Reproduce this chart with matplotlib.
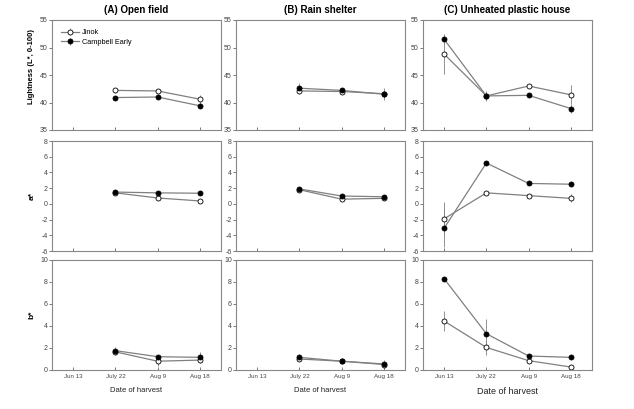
import numpy as np
import matplotlib
matplotlib.use("Agg")
import matplotlib.pyplot as plt

plt.rcParams["font.family"] = ["Liberation Sans", "DejaVu Sans"]
plt.rcParams["axes.unicode_minus"] = False

dates = ["Jun 13", "July 22", "Aug 9", "Aug 18"]
panel_titles = ["(A) Open field", "(B) Rain shelter", "(C) Unheated plastic house"]
row_labels = ["Lightness (L*, 0-100)", "a*", "b*"]
nan = np.nan

# L* values
L_jinok = [[nan, 42.2, 42.1, 40.6], [nan, 42.1, 42.0, 41.6], [48.8, 41.2, 43.0, 41.4]]
L_campbell = [[nan, 40.9, 41.0, 39.4], [nan, 42.6, 42.2, 41.5], [51.5, 41.2, 41.3, 38.9]]
L_jinok_err = [[0, 0.5, 0.3, 0.8], [0, 0.3, 0.3, 0.5], [3.6, 0.5, 0.3, 1.7]]
L_campbell_err = [[0, 0.3, 0.3, 0.4], [0, 1.0, 0.3, 1.1], [0.8, 0.9, 0.3, 0.8]]

# a* values
a_jinok = [[nan, 1.4, 0.75, 0.37], [nan, 1.8, 0.6, 0.7], [-1.9, 1.4, 1.05, 0.7]]
a_campbell = [[nan, 1.5, 1.4, 1.35], [nan, 1.9, 1.0, 0.9], [-3.1, 5.2, 2.6, 2.5]]
a_jinok_err = [[0, 0.2, 0.2, 0.2], [0, 0.2, 0.2, 0.2], [2.1, 0.2, 0.2, 0.5]]
a_campbell_err = [[0, 0.2, 0.2, 0.2], [0, 0.2, 0.2, 0.2], [2.4, 0.2, 0.2, 0.2]]

# b* values
b_jinok = [[nan, 1.65, 0.8, 0.9], [nan, 1.0, 0.8, 0.5], [4.45, 2.05, 0.85, 0.27]]
b_campbell = [[nan, 1.76, 1.21, 1.15], [nan, 1.15, 0.8, 0.55], [8.3, 3.3, 1.27, 1.15]]
b_jinok_err = [[0, 0.3, 0.4, 0.3], [0, 0.2, 0.2, 0.2], [0.9, 0.7, 0.1, 0.1]]
b_campbell_err = [[0, 0.3, 0.1, 0.5], [0, 0.1, 0.1, 0.4], [0.2, 1.3, 0.1, 0.1]]

jinok = [L_jinok, a_jinok, b_jinok]
campbell = [L_campbell, a_campbell, b_campbell]
jinok_err = [L_jinok_err, a_jinok_err, b_jinok_err]
campbell_err = [L_campbell_err, a_campbell_err, b_campbell_err]
ylims = [(35, 55), (-6, 8), (0, 10)]
yticks = [np.arange(35, 56, 5), np.arange(-6, 9, 2), np.arange(0, 11, 2)]

W, H = 634, 409
fig = plt.figure(figsize=(W / 100, H / 100), dpi=100)

lefts = [52, 236, 423]
tops = [20, 141, 260]
pw, ph = 169, 110
x = np.arange(len(dates))
grey = "#808080"

for r in range(3):
    for c in range(3):
        ax = fig.add_axes([lefts[c] / W, 1 - (tops[r] + ph) / H, pw / W, ph / H])
        for vals, errs, face, lab in [(jinok[r][c], jinok_err[r][c], "white", "Jinok"),
                                      (campbell[r][c], campbell_err[r][c], "black", "Campbell Early")]:
            ax.errorbar(x, vals, yerr=errs, color=grey, lw=0.9, elinewidth=0.6,
                        capsize=0, marker="o", ms=3.6, mfc=face, mec="black",
                        mew=0.6, label=lab)
        ax.set_xlim(-0.5, 3.5)
        ax.set_ylim(*ylims[r])
        ax.set_yticks(yticks[r])
        ax.set_xticks(x)
        ax.tick_params(axis="y", direction="out", length=2, width=0.5,
                       labelsize=5, pad=1, colors="#444444")
        ax.tick_params(axis="x", direction="in", length=2, width=0.5,
                       labelsize=4.5, pad=3, colors="#444444")
        for s in ax.spines.values():
            s.set_color("#888888")
            s.set_linewidth(0.8)
        if r == 2:
            ax.set_xticklabels(dates)
            ax.set_xlabel("Date of harvest", fontsize=6.5 if c == 2 else 5.5,
                          labelpad=6, color="#222222")
        else:
            ax.set_xticklabels([])
        if r == 0:
            ax.set_title(panel_titles[c], fontsize=7, fontweight="bold", pad=5)
        if c == 0:
            ax.set_ylabel(row_labels[r], fontsize=5.5 if r == 0 else 6,
                          fontweight="bold")
            ax.yaxis.set_label_coords(-0.098, 0.58 if r == 0 else 0.5)
        if r == 0 and c == 0:
            ax.legend(loc="upper left", fontsize=5.3, frameon=False,
                      handlelength=2.4, borderaxespad=0.4, labelspacing=0.35,
                      handletextpad=0.4, bbox_to_anchor=(0.02, 0.97))

fig.savefig("out.png", dpi=100)
